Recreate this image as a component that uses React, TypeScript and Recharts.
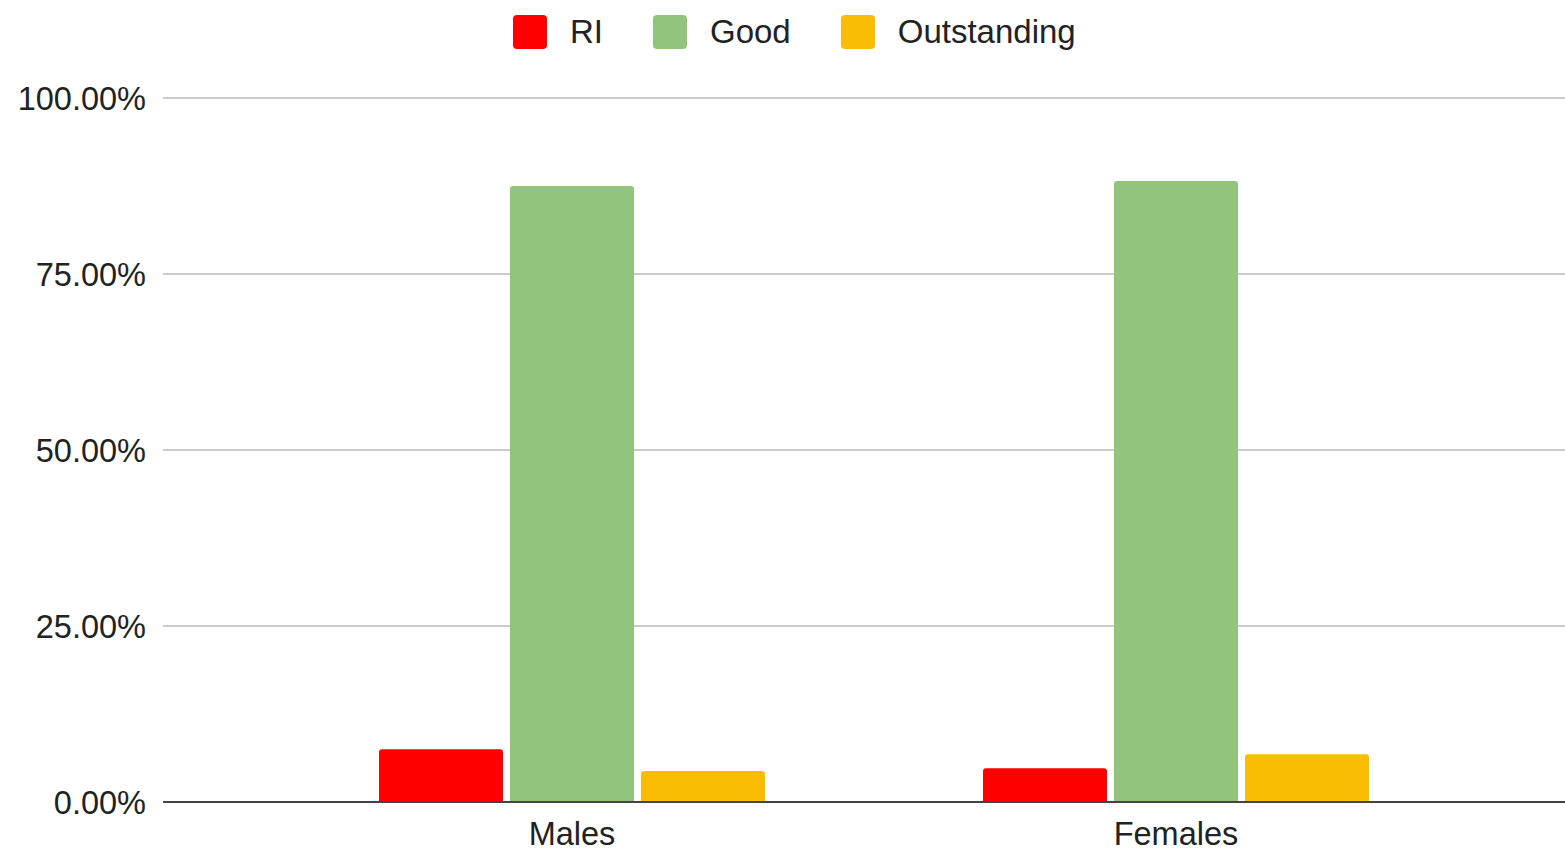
import React from "react";
import { BarChart, Bar, XAxis, YAxis, CartesianGrid, Legend } from "recharts";

// Share of ratings per group
const groups = ["Males", "Females"];
const riValues = [7.5, 4.8];
const goodValues = [87.5, 88.2];
const outstandingValues = [4.4, 6.8];
const yTicks = [0, 25, 50, 75, 100];

const seriesNames = ["RI", "Good", "Outstanding"];
const seriesKeys = ["ri", "good", "outstanding"];
const seriesColors = ["#ff0000", "#93c47d", "#fbbc04"];

const data = groups.map((g, i) => ({
  name: g,
  ri: riValues[i],
  good: goodValues[i],
  outstanding: outstandingValues[i],
}));

const FONT = "'Liberation Sans', Arial, sans-serif";

const LegendRow = () => (
  <div
    style={{
      height: 64,
      width: 1565,
      display: "flex",
      alignItems: "center",
      paddingLeft: 513,
      boxSizing: "border-box",
      fontFamily: FONT,
      fontSize: 33,
      color: "#222",
    }}
  >
    {seriesNames.map((n, i) => (
      <div key={n} style={{ display: "flex", alignItems: "center", marginRight: 50 }}>
        <div
          style={{
            width: 34,
            height: 34,
            borderRadius: 4,
            background: seriesColors[i],
            marginRight: 23,
          }}
        />
        <span>{n}</span>
      </div>
    ))}
  </div>
);

export default function App() {
  return (
    <div style={{ position: "absolute", left: 0, top: 0, background: "#fff" }}>
      <BarChart
        width={1565}
        height={851}
        data={data}
        margin={{ top: 34, right: 0, bottom: 0, left: 0 }}
        barSize={124}
        barGap={7}
      >
        <Legend
          verticalAlign="top"
          content={<LegendRow />}
          wrapperStyle={{ top: 0, left: 0, width: 1565, height: 64 }}
        />
        <CartesianGrid vertical={false} stroke="#cccccc" strokeWidth={2} />
        <XAxis
          dataKey="name"
          height={49}
          padding={{ left: 107, right: 87 }}
          axisLine={{ stroke: "#444444", strokeWidth: 2 }}
          tickLine={false}
          tickMargin={14}
          tick={{ fill: "#222", fontSize: 32.5, fontFamily: FONT }}
        />
        <YAxis
          width={163}
          domain={[0, 100]}
          ticks={yTicks}
          interval={0}
          axisLine={false}
          tickLine={false}
          tickMargin={11}
          tickFormatter={(v: number) => `${v.toFixed(2)}%`}
          tick={{ fill: "#222", fontSize: 32.5, fontFamily: FONT }}
        />
        {seriesKeys.map((k, i) => (
          <Bar
            key={k}
            dataKey={k}
            name={seriesNames[i]}
            fill={seriesColors[i]}
            radius={[3, 3, 0, 0]}
            isAnimationActive={false}
          />
        ))}
      </BarChart>
    </div>
  );
}
